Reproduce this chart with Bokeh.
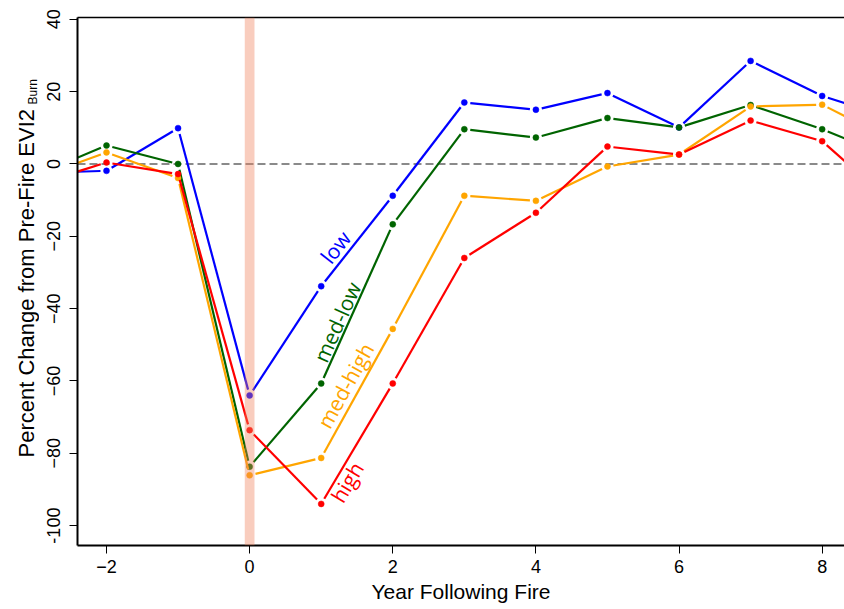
import numpy as np
from bokeh.plotting import figure
from bokeh.layouts import row
from bokeh.models import (Range1d, LinearAxis, FixedTicker, Span, BoxAnnotation,
                          Label, ColumnDataSource)
from bokeh.embed import file_html
from bokeh.resources import INLINE

# ---------------- data ----------------
years = [-3, -2, -1, 0, 1, 2, 3, 4, 5, 6, 7, 8, 9]
low = [-2.5, -1.9, 9.9, -64.0, -33.8, -8.8, 17.0, 15.0, 19.6, 10.1, 28.5, 18.8, 12.6]
med_low = [-3.2, 5.1, 0.0, -83.7, -60.7, -16.7, 9.6, 7.3, 12.7, 10.1, 16.3, 9.6, 1.6]
med_high = [-4.0, 3.2, -3.9, -86.1, -81.3, -45.6, -8.8, -10.2, -0.7, 2.6, 15.9, 16.4, 6.4]
high = [-5.8, 0.4, -2.8, -73.6, -94.0, -60.7, -26.0, -13.5, 4.8, 2.6, 12.0, 6.3, -11.2]

series_names = ["low", "med-low", "med-high", "high"]
series_values = [low, med_low, med_high, high]
series_colors = ["#0000FF", "#006400", "#FFA500", "#FF0000"]

y_ticks = [40, 20, 0, -20, -40, -60, -80, -100]
y_tick_labels = ["40", "20", "0", "\u221220", "\u221240", "\u221260", "\u221280", "-100"]
x_ticks = [-2, 0, 2, 4, 6, 8]
x_tick_labels = ["\u22122", "0", "2", "4", "6", "8"]

fire_year = 0
x_title = "Year Following Fire"
y_title = "Percent Change from Pre-Fire EVI2"
y_title_sub = "Burn"

# ---------------- layout ----------------
W, H = 844, 609
TW = 39                      # width of the strip that holds the y title
BL, BR, BT, BB = 77, 0, 17, 64
X0, X1 = -2.405, 8.312
Y0, Y1 = -105.5, 40.5
fw, fh = W - BL - BR, H - BT - BB
sx = fw / (X1 - X0)   # px per x unit
sy = fh / (Y1 - Y0)   # px per y unit

FONT = "Liberation Sans"

p = figure(width=W - TW, height=H, x_range=Range1d(X0, X1), y_range=Range1d(Y0, Y1),
           output_backend="svg", toolbar_location=None,
           min_border_left=BL - TW, min_border_right=BR, min_border_top=BT,
           min_border_bottom=BB)
p.outline_line_color = None
p.xgrid.visible = False
p.ygrid.visible = False
p.background_fill_color = "white"
p.border_fill_color = "white"

# axes
xa = p.xaxis[0]
xa.ticker = FixedTicker(ticks=x_ticks)
xa.major_label_overrides = dict(zip(x_ticks, x_tick_labels))
ya = p.yaxis[0]
ya.ticker = FixedTicker(ticks=y_ticks)
ya.major_label_overrides = dict(zip(y_ticks, y_tick_labels))
ya.major_label_orientation = "vertical"
for ax in (xa, ya):
    ax.axis_line_width = 2
    ax.axis_line_color = "black"
    ax.major_tick_out = 8
    ax.major_tick_in = 0
    ax.major_tick_line_width = 1
    ax.major_tick_line_color = "black"
    ax.minor_tick_line_color = None
    ax.major_label_text_font = FONT
    ax.major_label_text_font_size = "18px"
    ax.major_label_text_color = "black"
xa.major_label_standoff = 6
ya.major_label_standoff = 9
xa.axis_label = x_title
xa.axis_label_text_font = FONT
xa.axis_label_text_font_size = "21px"
xa.axis_label_text_font_style = "normal"
xa.axis_label_text_color = "black"
xa.axis_label_standoff = 4

top = LinearAxis(ticker=FixedTicker(ticks=[]), axis_line_width=1.5,
                 axis_line_color="black", major_tick_line_color=None,
                 minor_tick_line_color=None, major_label_text_font_size="0px")
p.add_layout(top, "above")

# zero reference line
p.add_layout(Span(location=0, dimension="width", line_color="#8a8a8a",
                  line_dash="8 4", line_width=2, level="underlay"))

# lines with gaps around points (R type "b")
GAP = 6.0
for name, vals, col in zip(series_names, series_values, series_colors):
    xs = np.array(years, float)
    ys = np.array(vals, float)
    dx = np.diff(xs)
    dy = np.diff(ys)
    lp = np.hypot(dx * sx, dy * sy)
    f = np.minimum(GAP / lp, 0.5)
    src = ColumnDataSource(dict(x0=xs[:-1] + dx * f, y0=ys[:-1] + dy * f,
                                x1=xs[1:] - dx * f, y1=ys[1:] - dy * f))
    p.segment("x0", "y0", "x1", "y1", source=src, line_color=col, line_width=2.2)
    p.scatter(years, vals, size=6, fill_color=col, line_color=col, line_width=0.5)

# fire year band
p.add_layout(BoxAnnotation(left=fire_year - 0.068, right=fire_year + 0.068,
                           fill_color=(240, 130, 93), fill_alpha=0.4, line_color=None))

# curve labels
lab_font = "Open Sans"
lab_specs = [  # (screen x, screen y, angle deg)
    (335.0, 246.7, 51.7),
    (336.7, 321.7, 65.8),
    (345.0, 385.0, 61.1),
    (346.7, 481.7, 59.3),
]
def to_data(px, py):
    return X0 + (px - BL) / sx, Y1 - (py - BT) / sy

for name, col, (px, py, ang) in zip(series_names, series_colors, lab_specs):
    lx, ly = to_data(px, py)
    p.add_layout(Label(x=lx, y=ly, text=name, angle=ang, angle_units="deg",
                       text_color=col, text_font=lab_font, text_font_size="21px",
                       text_align="center", text_baseline="middle"))

# y title strip: its frame spans screen rows BT..H-BB, so data y == screen row
t = figure(width=TW, height=H, x_range=Range1d(0, TW), y_range=Range1d(H - BB, BT),
           output_backend="svg", toolbar_location=None,
           x_axis_location=None, y_axis_location=None,
           min_border_left=0, min_border_right=0, min_border_top=BT,
           min_border_bottom=BB)
t.xgrid.visible = False
t.ygrid.visible = False
t.outline_line_color = None
t.background_fill_color = "white"
t.border_fill_color = "white"
t.add_layout(Label(x=25.5, y=457, text=y_title, text_font=FONT, text_font_size="22px",
                   angle=90, angle_units="deg", text_align="left",
                   text_baseline="middle", text_color="black"))
t.add_layout(Label(x=32.5, y=104, text=y_title_sub, text_font=FONT, text_font_size="12px",
                   angle=90, angle_units="deg", text_align="left",
                   text_baseline="middle", text_color="black"))

layout = row(t, p, spacing=0)
open("out.html", "w").write(file_html(layout, INLINE))
